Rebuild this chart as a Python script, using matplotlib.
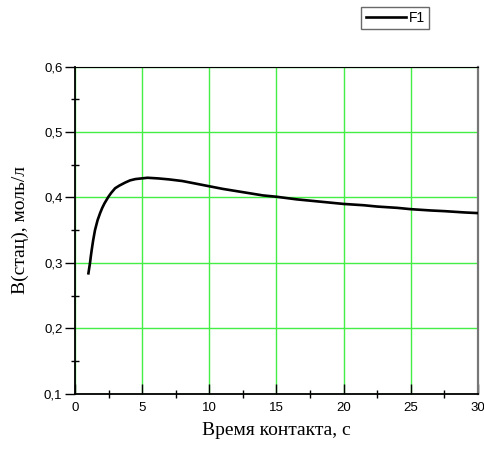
import matplotlib
matplotlib.use("Agg")
import matplotlib.pyplot as plt
from matplotlib.ticker import FuncFormatter, MultipleLocator

# values
contact_time = [1.0, 1.06, 1.12, 1.18, 1.24, 1.35, 1.49, 1.68, 1.87, 2.03, 2.2, 2.49, 2.7,
                2.99, 3.3, 3.73, 4.1, 4.5, 5.4,
                6.2, 7.0, 8.0, 9.0, 10.0, 11.0, 12.5, 14.0, 15.0, 16.5, 17.5, 19.0,
                20.0, 21.5, 22.5, 24.0, 25.0, 26.5, 27.5, 29.0, 30.0]
b_stat = [0.284, 0.292, 0.300, 0.310, 0.319, 0.334, 0.350, 0.365, 0.376, 0.384, 0.391,
          0.401, 0.407, 0.414, 0.418, 0.4226, 0.426, 0.428, 0.430,
          0.429, 0.4275, 0.425, 0.421, 0.417, 0.413, 0.408, 0.403, 0.401,
          0.397, 0.395, 0.392, 0.390, 0.388, 0.386, 0.384, 0.382, 0.380, 0.379, 0.377, 0.376]

x_ticks = [0, 5, 10, 15, 20, 25, 30]
y_ticks = [0.1, 0.2, 0.3, 0.4, 0.5, 0.6]

fig = plt.figure(figsize=(4.85, 4.55), dpi=100)
ax = fig.add_axes([0.1546, 0.1347, 0.8309, 0.7191])

ax.plot(contact_time, b_stat, color="black", lw=1.9, label="F1", zorder=3,
        solid_joinstyle="round")

ax.set_xlim(0, 30)
ax.set_ylim(0.1, 0.6)
ax.set_xticks(x_ticks)
ax.set_yticks(y_ticks)
ax.xaxis.set_minor_locator(MultipleLocator(2.5))
ax.yaxis.set_minor_locator(MultipleLocator(0.05))

ax.xaxis.set_major_formatter(FuncFormatter(lambda v, p: "%g" % v))
ax.yaxis.set_major_formatter(FuncFormatter(lambda v, p: ("%.1f" % v).replace(".", ",")))

ax.grid(True, which="major", color="#44ee44", lw=1.0, zorder=1)

ax.tick_params(axis="x", which="major", direction="in", length=7, width=1.0,
               labelsize=9.5, pad=6)
ax.tick_params(axis="y", which="major", direction="out", length=7, width=1.0,
               labelsize=9.5, pad=2)
ax.tick_params(which="minor", direction="inout", length=6, width=1.0)
for lab in ax.get_xticklabels() + ax.get_yticklabels():
    lab.set_family("Liberation Sans")

ax.spines["left"].set_linewidth(1.3)
ax.spines["bottom"].set_linewidth(1.3)
ax.spines["top"].set_linewidth(0.8)
ax.spines["right"].set_linewidth(1.6)
ax.spines["right"].set_color("#777777")

ax.set_xlabel("Время контакта, с", family="Liberation Serif", fontsize=14, labelpad=6)
ax.set_ylabel("В(стац), моль/л", family="Liberation Serif", fontsize=14, labelpad=11)

leg = fig.legend(loc="upper left", bbox_to_anchor=(361.5 / 485, 1 - 7 / 455),
                 prop={"family": "Liberation Sans", "size": 10},
                 frameon=True, fancybox=False, handlelength=2.9, handletextpad=0.2,
                 borderpad=0.3, borderaxespad=0)
leg.get_frame().set_edgecolor("#444444")
leg.get_frame().set_linewidth(1.0)

fig.savefig("out.png", dpi=100)
